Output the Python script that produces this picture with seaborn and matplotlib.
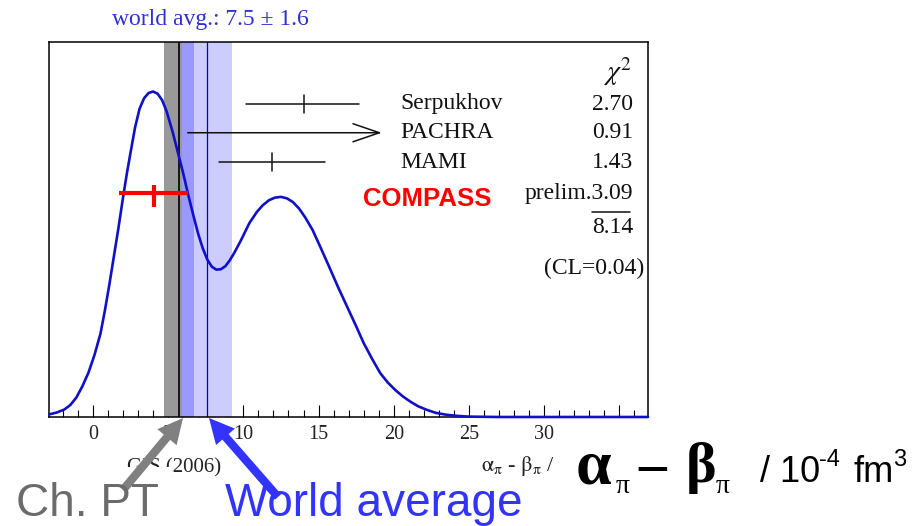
import numpy as np
import matplotlib
matplotlib.use("Agg")
import matplotlib.pyplot as plt
from matplotlib.patches import Rectangle, FancyArrowPatch
import seaborn as sns

# ---------------- data ----------------
curve_x = [-2.9, -2.4, -1.9, -1.5, -1.1, -0.7, -0.3, 0.1, 0.5, 0.8, 1.1, 1.4, 1.7, 2.0,
           2.25, 2.5, 2.8, 3.1, 3.4, 3.7, 4.0, 4.3, 4.6, 4.9, 5.3, 5.65, 6.0, 6.35, 6.7,
           7.0, 7.3, 7.6, 7.9, 8.2, 8.5, 8.8, 9.1, 9.4, 9.8, 10.4, 10.9, 11.3, 11.7,
           12.1, 12.5, 12.9, 13.3, 13.7, 14.1, 14.6, 15.1, 15.7, 16.3, 16.9, 17.5, 18.0,
           18.6, 19.1, 19.6, 20.1, 20.6, 21.1, 21.6, 22.2, 22.8, 23.5, 24.2, 25.0, 27.0,
           36.9]
curve_y = [0.007, 0.012, 0.020, 0.032, 0.052, 0.082, 0.118, 0.165, 0.222, 0.285, 0.355,
           0.430, 0.505, 0.585, 0.648, 0.705, 0.772, 0.822, 0.850, 0.864, 0.868, 0.862,
           0.845, 0.815, 0.760, 0.705, 0.650, 0.590, 0.534, 0.488, 0.450, 0.420, 0.401,
           0.393, 0.394, 0.402, 0.418, 0.438, 0.468, 0.517, 0.547, 0.565, 0.578, 0.585,
           0.587, 0.583, 0.573, 0.556, 0.533, 0.499, 0.455, 0.401, 0.346, 0.294, 0.242,
           0.197, 0.152, 0.117, 0.092, 0.072, 0.055, 0.041, 0.029, 0.019, 0.011, 0.006,
           0.003, 0.001, 0.0, 0.0]

exp_names = ["Serpukhov", "PACHRA", "MAMI"]
exp_center = [14.0, None, 11.9]
exp_lo = [10.2, 6.3, 8.4]
exp_hi = [17.7, 19.2, 15.4]
exp_level = [0.836, 0.758, 0.681]
exp_chi2 = ["2.70", "0.91", "1.43"]

compass_center = 4.05
compass_lo = 1.75
compass_hi = 6.35
compass_level = 0.598
compass_chi2 = "3.09"
chi2_total = "8.14"
cl_value = "0.04"

chpt_value = 5.7
chpt_lo, chpt_hi = 4.7, 6.7
wa_value = 7.6
wa_lo, wa_hi = 5.9, 9.25
wa_label = "world avg.: 7.5 \u00b1 1.6"

major_ticks = [0, 5, 10, 15, 20, 25, 30, 35]
major_labels = ["0", "5", "10", "15", "20", "25", "30", ""]
minor_ticks = list(range(-2, 37))

# ---------------- style ----------------
sns.set_style("white")
plt.rcParams["font.family"] = ["Liberation Serif", "DejaVu Serif"]
plt.rcParams["mathtext.fontset"] = "stix"

W, H = 914, 526
fig = plt.figure(figsize=(W / 100, H / 100), dpi=100)


def fx(px):
    return px / W


def fy(py):
    return 1 - py / H


ax = fig.add_axes([fx(49), fy(417), fx(648) - fx(49), fy(42) - fy(417)])
ax.set_xlim(-2.92, 36.9)
ax.set_ylim(0, 1.0)

# bands
ax.axvspan(chpt_lo, wa_lo, color="#999999", lw=0, zorder=1)
ax.axvspan(wa_lo, chpt_hi, color="#9999ff", lw=0, zorder=1)
ax.axvspan(chpt_hi, wa_hi, color="#ccccff", lw=0, zorder=1)
ax.axvline(chpt_value, color="black", lw=1.2, zorder=2)
ax.axvline(wa_value, color="#0000cc", lw=0.9, zorder=2)

# ideogram curve
sns.lineplot(x=curve_x, y=curve_y, ax=ax, color="#1010c8", lw=1.9, zorder=4,
             clip_on=False)

# experiments
bar_h = 0.024
for name, c, lo, hi, lev in zip(exp_names, exp_center, exp_lo, exp_hi, exp_level):
    if c is None:
        ax.annotate("", xy=(hi, lev), xytext=(lo, lev),
                    arrowprops=dict(arrowstyle="->,head_length=1.9,head_width=0.65",
                                    lw=1.1, color="#111111", shrinkA=0, shrinkB=0,
                                    mutation_scale=10), zorder=5)
    else:
        ax.plot([lo, hi], [lev, lev], color="#111111", lw=1.1, zorder=5)
        ax.plot([c, c], [lev - bar_h, lev + bar_h], color="#111111", lw=1.1, zorder=5)

ax.plot([compass_lo, compass_hi], [compass_level, compass_level], color="#ff0000",
        lw=3.0, zorder=6, solid_capstyle="butt")
ax.plot([compass_center, compass_center], [compass_level - 0.037, compass_level + 0.02],
        color="#ff0000", lw=3.0, zorder=6, solid_capstyle="butt")

# axes cosmetics
for s in ax.spines.values():
    s.set_color("black")
    s.set_linewidth(1.1)
ax.set_yticks([])
ax.set_xticks(major_ticks)
ax.set_xticklabels(major_labels)
ax.set_xticks(minor_ticks, minor=True)
ax.tick_params(axis="x", which="major", direction="in", length=9, width=0.8,
               color="black", pad=6, labelsize=14.5, labelcolor="#222222", bottom=True)
ax.tick_params(axis="x", which="minor", direction="in", length=4.8, width=0.8,
               color="black", bottom=True)
ax.set_xlabel("")
ax.set_ylabel("")

# ---------------- texts ----------------
serif = ["Liberation Serif", "DejaVu Serif"]
sans = ["Liberation Sans", "DejaVu Sans"]

fig.text(fx(210), fy(20), wa_label, ha="center", va="center", fontsize=17,
         color="#3030d0", family=serif)

fig.text(fx(617), fy(72), r"$\chi^2$", ha="center", va="center", fontsize=20,
         color="#111111")
rows_y = [104, 133, 162]
for name, chi, yy in zip(exp_names, exp_chi2, rows_y):
    fig.text(fx(400), fy(yy), name, ha="left", va="center", fontsize=17,
             color="#111111", family=serif)
    fig.text(fx(633), fy(yy), chi, ha="right", va="center", fontsize=17,
             color="#111111", family=serif)
fig.text(fx(633), fy(194), "prelim." + compass_chi2, ha="right", va="center",
         fontsize=17, color="#111111", family=serif)
fig.add_artist(plt.Line2D([fx(592), fx(630)], [fy(212), fy(212)], color="#111111",
                          lw=1.1))
fig.text(fx(633), fy(228), chi2_total, ha="right", va="center", fontsize=17,
         color="#111111", family=serif)
fig.text(fx(644), fy(268), "(CL=" + cl_value + ")", ha="right", va="center",
         fontsize=17, color="#111111", family=serif)
fig.text(fx(427), fy(199), "COMPASS", ha="center", va="center", fontsize=18.5,
         color="#ff0000", family=sans, weight="bold")

# GIS label (lower part hidden)
fig.text(fx(127), fy(468), "GIS (2006)", ha="left", va="center", fontsize=15,
         color="#222222", family=serif)
cover = Rectangle((fx(110), fy(484)), fx(172) - fx(110), fy(467) - fy(484),
                  transform=fig.transFigure, facecolor="white", edgecolor="none",
                  lw=0, zorder=5)
fig.add_artist(cover)

# small pdg axis label
fig.text(fx(481), fy(466), r"$\mathrm{\alpha_\pi}$ - $\mathrm{\beta_\pi}$ /",
         ha="left", va="center", fontsize=16, color="#222222")

# big arrows (figure level, above the cover)
arrow_style = "simple,head_length=0.9,head_width=0.9,tail_width=0.3"
fig.add_artist(FancyArrowPatch((fx(123), fy(490)), (fx(183), fy(418)),
                               transform=fig.transFigure, arrowstyle=arrow_style,
                               mutation_scale=20, color="#808080", lw=0,
                               shrinkA=0, shrinkB=0, zorder=7))
fig.add_artist(FancyArrowPatch((fx(278), fy(497)), (fx(209), fy(418)),
                               transform=fig.transFigure, arrowstyle=arrow_style,
                               mutation_scale=20, color="#3333ff", lw=0,
                               shrinkA=0, shrinkB=0, zorder=7))

fig.text(fx(16), fy(516), "Ch. PT", ha="left", va="baseline", fontsize=33,
         color="#6b6b6b", family=sans, zorder=8)
fig.text(fx(225), fy(516), "World average", ha="left", va="baseline", fontsize=33,
         color="#3333ff", family=sans, zorder=8)

# big axis title
fig.text(fx(576), fy(483), "\u03b1", ha="left", va="baseline", fontsize=46,
         color="black", family=serif, weight="bold")
fig.text(fx(616), fy(493), "\u03c0", ha="left", va="baseline", fontsize=20,
         color="black", family=serif)
fig.text(fx(638), fy(482), "\u2013", ha="left", va="baseline", fontsize=40,
         color="black", family=serif, weight="bold")
fig.text(fx(686), fy(482), "\u03b2", ha="left", va="baseline", fontsize=42,
         color="black", family=serif, weight="bold")
fig.text(fx(716), fy(493), "\u03c0", ha="left", va="baseline", fontsize=20,
         color="black", family=serif)
fig.text(fx(760), fy(482), "/ 10", ha="left", va="baseline", fontsize=26,
         color="black", family=sans)
fig.text(fx(819), fy(466), "-4", ha="left", va="baseline", fontsize=17,
         color="black", family=sans)
fig.text(fx(853), fy(482), "fm", ha="left", va="baseline", fontsize=26,
         color="black", family=sans)
fig.text(fx(893), fy(466), "3", ha="left", va="baseline", fontsize=17,
         color="black", family=sans)

fig.savefig("out.png", dpi=100)
